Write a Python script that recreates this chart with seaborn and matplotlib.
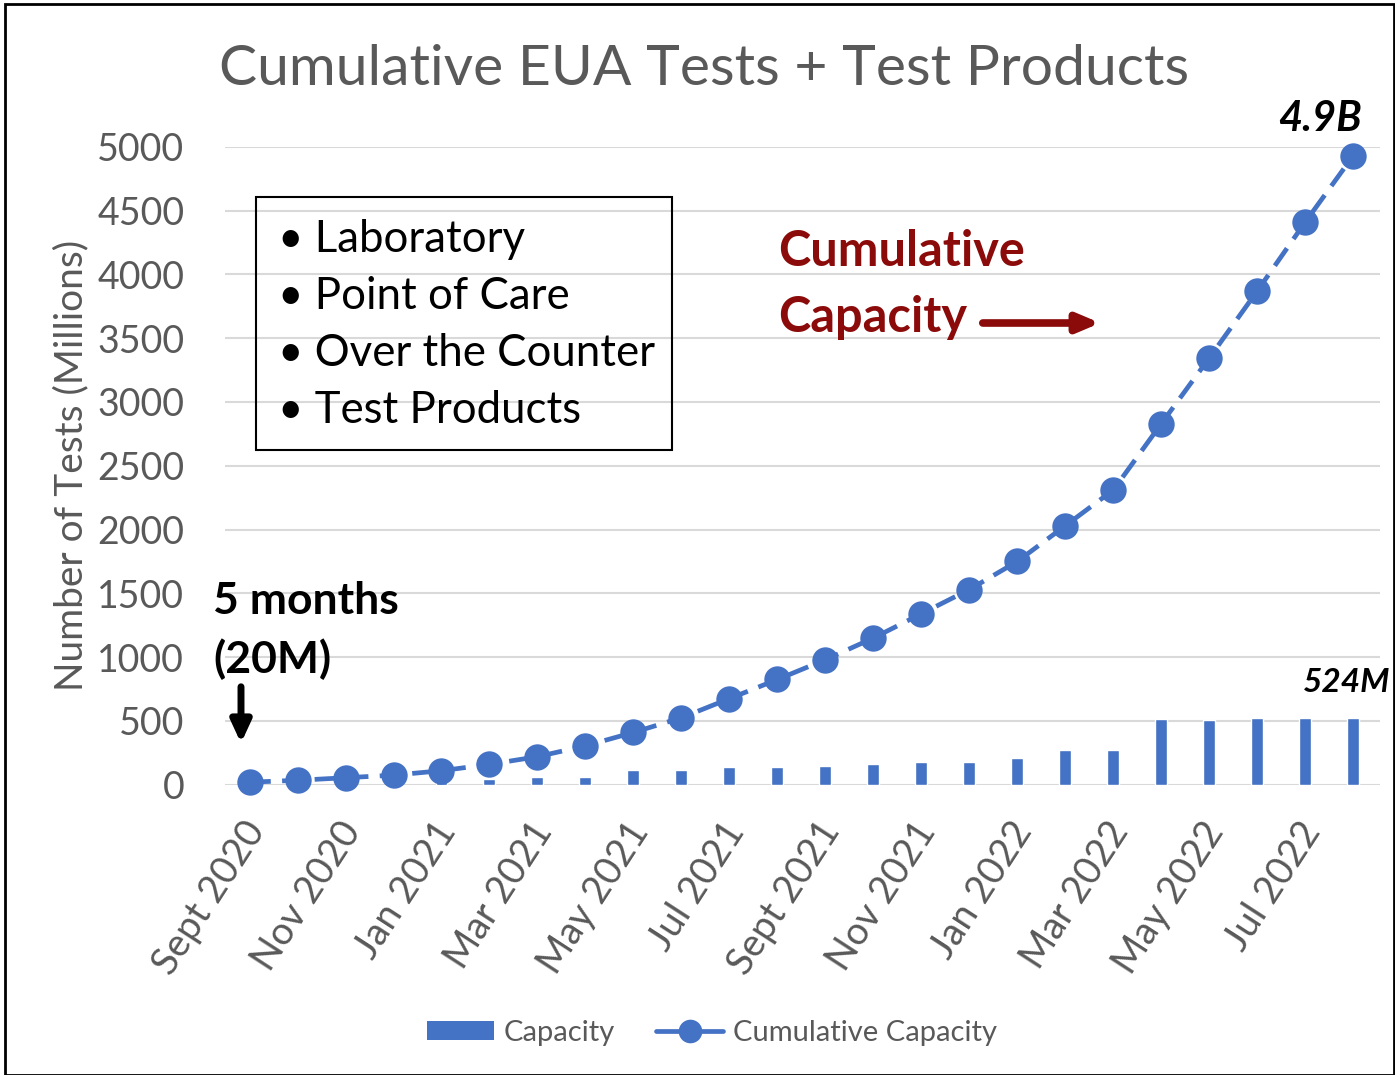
import numpy as np
import pandas as pd
import matplotlib.pyplot as plt
import matplotlib.transforms as mtransforms
import seaborn as sns
from matplotlib.patches import Rectangle, Patch
from matplotlib.lines import Line2D

months = ['Sept 2020', 'Oct 2020', 'Nov 2020', 'Dec 2020', 'Jan 2021', 'Feb 2021',
          'Mar 2021', 'Apr 2021', 'May 2021', 'Jun 2021', 'Jul 2021', 'Aug 2021',
          'Sept 2021', 'Oct 2021', 'Nov 2021', 'Dec 2021', 'Jan 2022', 'Feb 2022',
          'Mar 2022', 'Apr 2022', 'May 2022', 'Jun 2022', 'Jul 2022', 'Aug 2022']
capacity = [10, 15, 20, 25, 35, 45, 60, 60, 115, 115, 140, 140,
            150, 165, 175, 180, 210, 275, 275, 515, 505, 525, 525, 524]
cumulative = [20, 35, 55, 75, 110, 160, 220, 305, 410, 525, 675, 825,
              980, 1150, 1340, 1530, 1750, 2030, 2310, 2830, 3345, 3870, 4410, 4930]
box_items = ['Laboratory', 'Point of Care', 'Over the Counter', 'Test Products']

blue = '#4472C4'
gray = '#595959'
red = '#8B0A0A'

sns.set_style('white')
plt.rcParams['font.family'] = ['Lato', 'DejaVu Sans']

df = pd.DataFrame({'month': months, 'pos': np.arange(len(months)),
                   'Capacity': capacity, 'Cumulative Capacity': cumulative})

fig = plt.figure(figsize=(13.95, 10.75), dpi=100)
ax = fig.add_axes([0.161, 0.27, 0.828, 0.5935])

sns.barplot(data=df, x='pos', y='Capacity', color=blue, width=0.25,
            saturation=1, native_scale=True, ax=ax, zorder=2)
sns.lineplot(data=df, x='pos', y='Cumulative Capacity', color=blue, ax=ax,
             marker='o', markersize=19, markeredgewidth=0, linewidth=3.4,
             linestyle=(0, (4.5, 2.4)), zorder=3, clip_on=False)

ax.set_xlim(-0.52, 23.55)
ax.set_ylim(0, 5000)
ax.set_yticks(range(0, 5001, 500))
ax.yaxis.grid(True, color='#D9D9D9', linewidth=1.5)
ax.set_axisbelow(True)
for s in ax.spines.values():
    s.set_visible(False)
ax.tick_params(axis='both', length=0, labelsize=27, labelcolor=gray)
ax.tick_params(axis='y', pad=29)
ax.set_xticks(range(0, 24, 2))
ax.set_xticklabels(months[::2], rotation=57, ha='right', va='center',
                   rotation_mode='anchor')
ax.tick_params(axis='x', pad=29, labelsize=27.5)
shift = mtransforms.ScaledTranslation(7 / 100, 0, fig.dpi_scale_trans)
for lbl in ax.get_xticklabels():
    lbl.set_transform(lbl.get_transform() + shift)
ax.set_xlabel('')
ax.set_ylabel('Number of Tests (Millions)', fontsize=28, color=gray, labelpad=6)

fig.text(0.505, 0.935, 'Cumulative EUA Tests + Test Products', fontsize=41,
         color=gray, ha='center', va='center')

# bullet list box
fig.patches.append(Rectangle((256 / 1395, 1 - 450 / 1075), 416 / 1395, 253 / 1075,
                             transform=fig.transFigure, fill=False,
                             edgecolor='black', linewidth=1.5))
for i, item in enumerate(box_items):
    y = 1 - (239 + 57.3 * i) / 1075
    fig.text(278 / 1395, y, '\u2022 ' + item, fontsize=31.5, color='black',
             va='center', ha='left')

fig.text(778 / 1395, 1 - 252 / 1075, 'Cumulative', fontsize=35, fontweight='bold',
         color=red, va='center')
fig.text(778 / 1395, 1 - 317 / 1075, 'Capacity', fontsize=35, fontweight='bold',
         color=red, va='center')
fig.add_artist(plt.Annotation('', xy=(1103 / 1395, 1 - 323 / 1075),
                              xytext=(980 / 1395, 1 - 323 / 1075),
                              xycoords='figure fraction',
                              arrowprops=dict(arrowstyle='-|>,head_length=1.3,head_width=0.55',
                                              color=red, lw=5.5)))

fig.text(213 / 1395, 1 - 601 / 1075, '5 months', fontsize=32, fontweight='bold',
         color='black', va='center')
fig.text(213 / 1395, 1 - 659 / 1075, '(20M)', fontsize=32, fontweight='bold',
         color='black', va='center')
fig.add_artist(plt.Annotation('', xy=(241 / 1395, 1 - 746 / 1075),
                              xytext=(241 / 1395, 1 - 684 / 1075),
                              xycoords='figure fraction',
                              arrowprops=dict(arrowstyle='-|>,head_length=1.3,head_width=0.6',
                                              color='black', lw=5)))

fig.text(1362 / 1395, 1 - 119 / 1075, '4.9B', fontsize=30, fontweight='bold',
         style='italic', color='black', ha='right', va='center')
fig.text(1390 / 1395, 1 - 683 / 1075, '524M', fontsize=24, fontweight='bold',
         style='italic', color='black', ha='right', va='center')

handles = [Patch(facecolor=blue, edgecolor='none'),
           Line2D([], [], color=blue, linewidth=3.4, marker='o', markersize=17,
                  markeredgewidth=0)]
ax.legend(handles, ['Capacity', 'Cumulative Capacity'], loc='center',
          bbox_to_anchor=(712 / 1395, 1 - 1033 / 1075),
          bbox_transform=fig.transFigure, ncol=2, frameon=False, fontsize=21,
          labelcolor=gray, handlelength=2.3, handleheight=0.6, columnspacing=1.4,
          handletextpad=0.35)

fig.patches.append(Rectangle((5 / 1395, 0), 1389 / 1395, 1 - 4 / 1075,
                             transform=fig.transFigure, fill=False,
                             edgecolor='black', linewidth=2))

fig.savefig('out.png', dpi=100)
